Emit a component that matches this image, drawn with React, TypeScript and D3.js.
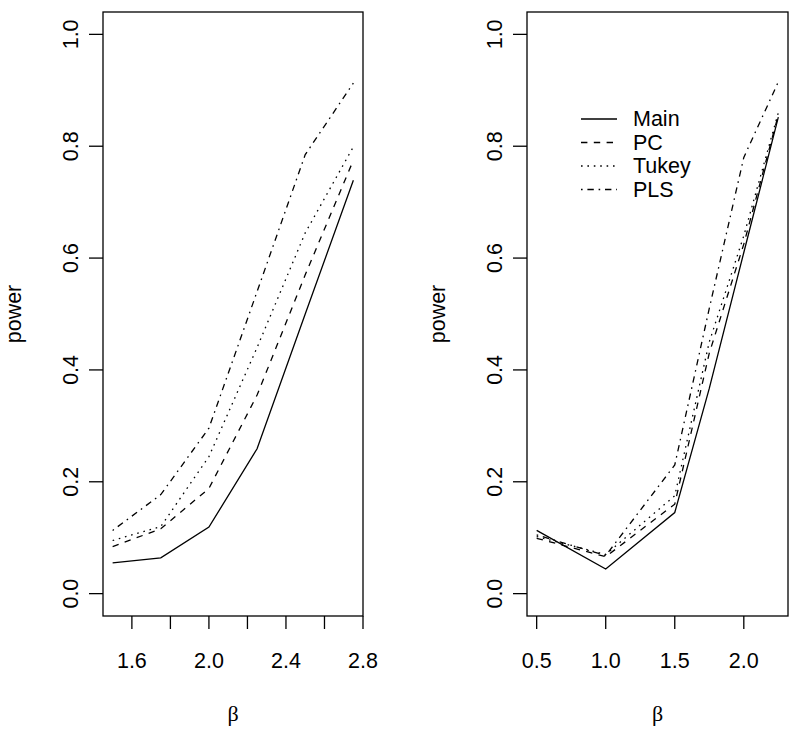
import React from "react";
import * as d3 from "d3";

const xLeft = [1.5, 1.75, 2.0, 2.25, 2.5, 2.75];
const mainLeft = [0.055, 0.064, 0.119, 0.259, 0.5, 0.739];
const pcLeft = [0.084, 0.116, 0.188, 0.355, 0.57, 0.775];
const tukeyLeft = [0.095, 0.12, 0.245, 0.44, 0.645, 0.799];
const plsLeft = [0.113, 0.177, 0.296, 0.54, 0.785, 0.913];

const xRight = [0.5, 1.0, 1.5, 1.75, 2.0, 2.25];
const mainRight = [0.113, 0.044, 0.145, 0.367, 0.61, 0.852];
const pcRight = [0.099, 0.066, 0.16, 0.43, 0.625, 0.856];
const tukeyRight = [0.102, 0.07, 0.175, 0.45, 0.64, 0.86];
const plsRight = [0.105, 0.068, 0.23, 0.51, 0.78, 0.915];

const seriesNames = ["Main", "PC", "Tukey", "PLS"];
const yTicks = [0, 0.2, 0.4, 0.6, 0.8, 1.0];
const xTicksLeft = [1.6, 1.8, 2.0, 2.2, 2.4, 2.6, 2.8];
const xLabelsLeft = [1.6, 2.0, 2.4, 2.8];
const xTicksRight = [0.5, 1.0, 1.5, 2.0];
const xLabelsRight = [0.5, 1.0, 1.5, 2.0];

const dashes = ["none", "6.4,6.4", "1.6,4.8", "1.6,4.8,6.4,4.8"];
const FONT = "'Liberation Sans', Arial, Helvetica, sans-serif";
const FS = 21.5;

type PanelProps = {
  left: number;
  right: number;
  xs: number[];
  ys: number[][];
  xTicks: number[];
  xLabels: number[];
  legend: boolean;
};

function Panel({ left, right, xs, ys, xTicks, xLabels, legend }: PanelProps) {
  const top = 12;
  const bottom = 616;
  const xmin = d3.min(xs)!;
  const xmax = d3.max(xs)!;
  const pad = (xmax - xmin) * 0.04;
  const x = d3.scaleLinear().domain([xmin - pad, xmax + pad]).range([left, right]);
  const y = d3.scaleLinear().domain([-0.04, 1.04]).range([bottom, top]);
  const line = d3
    .line<[number, number]>()
    .x((d) => x(d[0]))
    .y((d) => y(d[1]));
  const cx = (left + right) / 2;
  const cy = (top + bottom) / 2;
  const fmt = d3.format(".1f");
  const legX = left + 54;
  return (
    <g>
      <rect x={left} y={top} width={right - left} height={bottom - top} fill="none" stroke="#000" strokeWidth={1.3} />
      {ys.map((s, i) => (
        <path
          key={i}
          d={line(xs.map((xv, j) => [xv, s[j]] as [number, number])) || ""}
          fill="none"
          stroke="#000"
          strokeWidth={1.3}
          strokeDasharray={dashes[i]}
        />
      ))}
      {yTicks.map((t) => (
        <g key={t}>
          <line x1={left - 14} x2={left} y1={y(t)} y2={y(t)} stroke="#000" strokeWidth={1.3} />
          <text
            transform={`translate(${left - 25},${y(t)}) rotate(-90)`}
            textAnchor="middle"
            fontFamily={FONT}
            fontSize={FS}
          >
            {fmt(t)}
          </text>
        </g>
      ))}
      {xTicks.map((t) => (
        <line key={t} x1={x(t)} x2={x(t)} y1={bottom} y2={bottom + 13} stroke="#000" strokeWidth={1.3} />
      ))}
      {xLabels.map((t) => (
        <text key={t} x={x(t)} y={668} textAnchor="middle" fontFamily={FONT} fontSize={FS}>
          {fmt(t)}
        </text>
      ))}
      <text
        transform={`translate(${left - 82},${cy}) rotate(-90)`}
        textAnchor="middle"
        fontFamily={FONT}
        fontSize={FS}
      >
        power
      </text>
      <text x={cx} y={721} textAnchor="middle" fontFamily="'Liberation Serif', 'DejaVu Serif', serif" fontSize={22}>
        β
      </text>
      {legend &&
        seriesNames.map((n, i) => {
          const ly = 119 + i * 23.5;
          return (
            <g key={n}>
              <line x1={legX} x2={legX + 36} y1={ly} y2={ly} stroke="#000" strokeWidth={1.3} strokeDasharray={dashes[i]} />
              <text x={legX + 52} y={ly} dominantBaseline="central" fontFamily={FONT} fontSize={FS}>
                {n}
              </text>
            </g>
          );
        })}
    </g>
  );
}

export default function App() {
  return (
    <svg width={800} height={734} style={{ position: "absolute", left: 0, top: 0, background: "#fff" }}>
      <rect x={0} y={0} width={800} height={734} fill="#fff" />
      <Panel
        left={103}
        right={363}
        xs={xLeft}
        ys={[mainLeft, pcLeft, tukeyLeft, plsLeft]}
        xTicks={xTicksLeft}
        xLabels={xLabelsLeft}
        legend={false}
      />
      <Panel
        left={527}
        right={788}
        xs={xRight}
        ys={[mainRight, pcRight, tukeyRight, plsRight]}
        xTicks={xTicksRight}
        xLabels={xLabelsRight}
        legend={true}
      />
    </svg>
  );
}
